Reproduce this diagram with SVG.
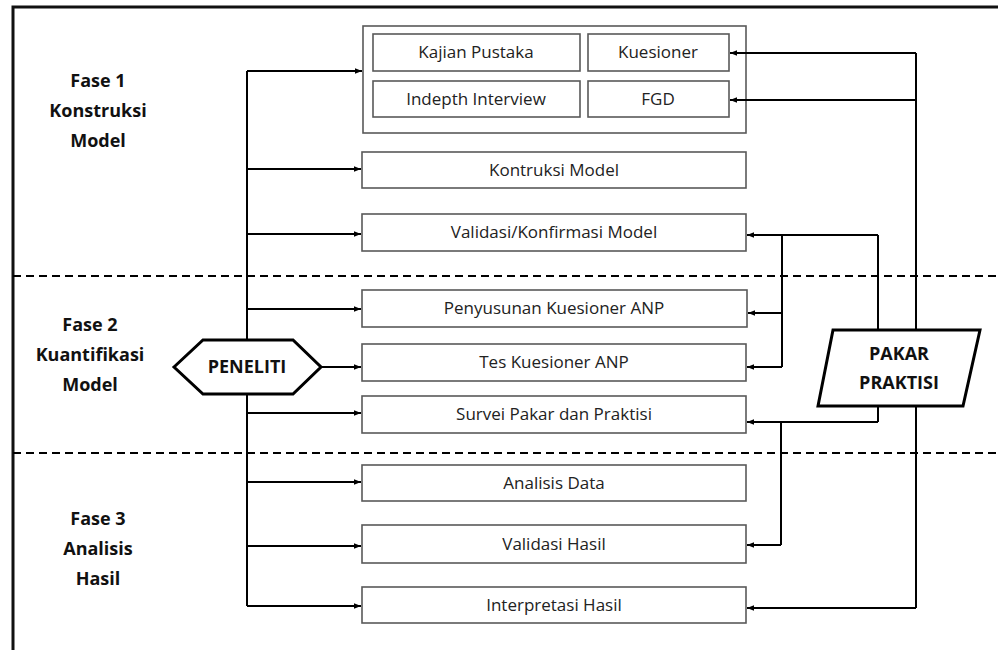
<svg xmlns="http://www.w3.org/2000/svg" width="998" height="650" viewBox="0 0 998 650">
<defs>
<marker id="ah" viewBox="0 0 10 10" refX="10" refY="5" markerWidth="7" markerHeight="7" markerUnits="userSpaceOnUse" orient="auto">
<path d="M0,1 L10,5 L0,9 Z" fill="#000"/>
</marker>
<style>
.box{fill:#fff;stroke:#595959;stroke-width:1.6}
.t{font-family:"Open Sans","Noto Sans",sans-serif;font-size:17px;fill:#222;text-anchor:middle}
.ph{font-family:"Open Sans","Noto Sans",sans-serif;font-size:18px;font-weight:bold;fill:#111;text-anchor:middle}
.c{fill:none;stroke:#000;stroke-width:2}
.ca{fill:none;stroke:#000;stroke-width:2;marker-end:url(#ah)}
.dash{stroke:#000;stroke-width:2.2;stroke-dasharray:8,5}
</style>
</defs>
<rect width="998" height="650" fill="#fff"/>
<path d="M13,650 V7 H998" fill="none" stroke="#111" stroke-width="3"/>
<line class="dash" x1="13" y1="276" x2="998" y2="276"/>
<line class="dash" x1="13" y1="453" x2="998" y2="453"/>

<g id="phase1"><text class="ph" x="98" y="87">Fase 1</text><text class="ph" x="98" y="117">Konstruksi</text><text class="ph" x="98" y="147">Model</text></g>
<g id="phase2"><text class="ph" x="90" y="331">Fase 2</text><text class="ph" x="90" y="361">Kuantifikasi</text><text class="ph" x="90" y="391">Model</text></g>
<g id="phase3"><text class="ph" x="98" y="525">Fase 3</text><text class="ph" x="98" y="555">Analisis</text><text class="ph" x="98" y="585">Hasil</text></g>

<g id="group1">
<rect class="box" x="363" y="26" width="383" height="107"/>
<g id="kajian"><rect class="box" x="373" y="34" width="207" height="37"/><text class="t" x="476" y="58">Kajian Pustaka</text></g>
<g id="kuesioner"><rect class="box" x="588" y="34" width="141" height="37"/><text class="t" x="658" y="58">Kuesioner</text></g>
<g id="indepth"><rect class="box" x="373" y="81" width="207" height="36"/><text class="t" x="476" y="105">Indepth Interview</text></g>
<g id="fgd"><rect class="box" x="588" y="81" width="141" height="36"/><text class="t" x="658" y="105">FGD</text></g>
</g>
<g id="kontruksi"><rect class="box" x="362" y="152" width="384" height="36"/><text class="t" x="554" y="176">Kontruksi Model</text></g>
<g id="validasi1"><rect class="box" x="362" y="214" width="384" height="37"/><text class="t" x="554" y="238">Validasi/Konfirmasi Model</text></g>
<g id="penyusunan"><rect class="box" x="362" y="290" width="385" height="37"/><text class="t" x="554" y="314">Penyusunan Kuesioner ANP</text></g>
<g id="tes"><rect class="box" x="362" y="344" width="384" height="37"/><text class="t" x="554" y="368">Tes Kuesioner ANP</text></g>
<g id="survei"><rect class="box" x="362" y="396" width="384" height="37"/><text class="t" x="554" y="420">Survei Pakar dan Praktisi</text></g>
<g id="analisis"><rect class="box" x="362" y="465" width="384" height="36"/><text class="t" x="554" y="489">Analisis Data</text></g>
<g id="validasi2"><rect class="box" x="362" y="525" width="384" height="38"/><text class="t" x="554" y="550">Validasi Hasil</text></g>
<g id="interpretasi"><rect class="box" x="362" y="587" width="384" height="36"/><text class="t" x="554" y="611">Interpretasi Hasil</text></g>

<g id="peneliti">
<polygon points="174,367 203,340 293,340 321,367 293,394 203,394" fill="#fff" stroke="#000" stroke-width="3"/>
<text class="ph" x="247" y="373" font-size="16">PENELITI</text>
</g>
<g id="pakar">
<polygon points="833,330 980,330 963,406 818,406" fill="#fff" stroke="#000" stroke-width="3"/>
<text class="ph" x="899" y="360">PAKAR</text>
<text class="ph" x="899" y="389">PRAKTISI</text>
</g>

<g id="connectors">
<path class="c" d="M247,340 V71"/>
<path class="c" d="M247,394 V606"/>
<path class="ca" d="M247,71 H362"/>
<path class="ca" d="M247,169 H361"/>
<path class="ca" d="M247,234 H361"/>
<path class="ca" d="M247,309 H361"/>
<path class="ca" d="M321,367 H361"/>
<path class="ca" d="M247,413 H361"/>
<path class="ca" d="M247,482 H361"/>
<path class="ca" d="M247,546 H361"/>
<path class="ca" d="M247,606 H361"/>

<path class="c" d="M916,330 V53"/>
<path class="ca" d="M916,53 H730"/>
<path class="ca" d="M916,100 H730"/>
<path class="c" d="M916,406 V608"/>
<path class="ca" d="M916,608 H747"/>

<path class="c" d="M878,330 V235"/>
<path class="ca" d="M878,235 H747"/>
<path class="c" d="M782,235 V367"/>
<path class="ca" d="M782,313 H748"/>
<path class="ca" d="M782,367 H747"/>
<path class="c" d="M878,406 V422"/>
<path class="ca" d="M878,422 H747"/>
<path class="c" d="M781,422 V545"/>
<path class="ca" d="M781,545 H747"/>
</g>
</svg>
